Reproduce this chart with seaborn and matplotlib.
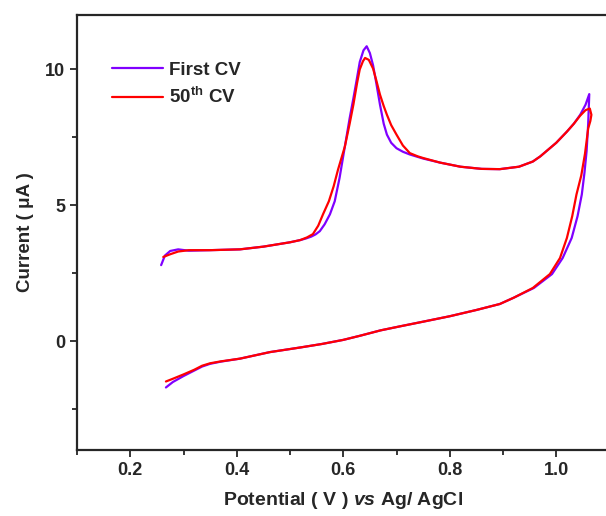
import matplotlib
matplotlib.use("Agg")
import matplotlib.pyplot as plt
import seaborn as sns
import pandas as pd
import numpy as np
from matplotlib.lines import Line2D

# ---- data (potential V, current uA) ----
first_x = [0.258, 0.265, 0.275, 0.29, 0.31, 0.35, 0.406, 0.45, 0.5, 0.519, 0.53, 0.54, 0.548, 0.556,
           0.565, 0.575, 0.584, 0.593, 0.603, 0.612, 0.619, 0.626, 0.631, 0.638, 0.644, 0.65, 0.656,
           0.662, 0.669, 0.676, 0.682, 0.69, 0.7, 0.712, 0.725, 0.75, 0.782, 0.82,
           0.86, 0.894, 0.93, 0.956, 0.97, 0.988, 1.0, 1.02, 1.033, 1.045, 1.055, 1.062,
           1.06, 1.057, 1.053, 1.048, 1.04, 1.029, 1.012, 0.992, 0.958, 0.92, 0.894, 0.85, 0.8, 0.75,
           0.707, 0.67, 0.631, 0.6, 0.56, 0.519, 0.462, 0.406, 0.37, 0.35, 0.335, 0.32, 0.3, 0.28, 0.267]
first_y = [2.8, 3.15, 3.32, 3.38, 3.33, 3.35, 3.38, 3.48, 3.64, 3.72, 3.78, 3.85, 3.93, 4.05,
           4.3, 4.67, 5.15, 6.0, 7.16, 8.2, 8.93, 9.7, 10.27, 10.7, 10.85, 10.6, 10.15,
           9.5, 8.7, 8.0, 7.6, 7.3, 7.1, 6.97, 6.87, 6.72, 6.57, 6.42,
           6.34, 6.33, 6.42, 6.61, 6.8, 7.1, 7.3, 7.71, 8.0, 8.33, 8.7, 9.09,
           8.0, 7.0, 6.2, 5.4, 4.6, 3.8, 3.06, 2.47, 1.96, 1.6, 1.37, 1.15, 0.92, 0.72,
           0.55, 0.4, 0.2, 0.05, -0.1, -0.23, -0.4, -0.64, -0.75, -0.83, -0.93, -1.08, -1.28, -1.5, -1.7]

fifty_x = [0.262, 0.275, 0.29, 0.31, 0.35, 0.406, 0.45, 0.5, 0.519, 0.532, 0.543, 0.553, 0.562,
           0.573, 0.582, 0.59, 0.603, 0.612, 0.619, 0.626, 0.631, 0.637, 0.641, 0.648, 0.656,
           0.662, 0.669, 0.676, 0.682, 0.69, 0.7, 0.712, 0.725, 0.74, 0.75, 0.782,
           0.82, 0.86, 0.894, 0.93, 0.956, 0.97, 0.988, 1.0, 1.02, 1.033, 1.045, 1.055, 1.063, 1.066,
           1.064, 1.06, 1.054, 1.047, 1.038, 1.03, 1.02, 1.007, 0.988, 0.956, 0.92, 0.894, 0.85, 0.8,
           0.75, 0.707, 0.67, 0.631, 0.6, 0.56, 0.519, 0.462, 0.406, 0.37, 0.35, 0.335, 0.32, 0.3, 0.28, 0.267]
fifty_y = [3.1, 3.2, 3.3, 3.35, 3.35, 3.38, 3.48, 3.64, 3.72, 3.82, 3.94, 4.25, 4.67,
           5.15, 5.7, 6.3, 7.16, 8.0, 8.7, 9.5, 10.0, 10.3, 10.42, 10.35, 10.03,
           9.6, 9.07, 8.65, 8.33, 7.95, 7.6, 7.2, 6.92, 6.8, 6.74, 6.57,
           6.42, 6.34, 6.33, 6.42, 6.61, 6.8, 7.1, 7.3, 7.71, 8.0, 8.3, 8.5, 8.56, 8.33,
           8.1, 7.83, 6.9, 6.1, 5.4, 4.6, 3.8, 3.06, 2.47, 1.96, 1.6, 1.37, 1.15, 0.92,
           0.72, 0.55, 0.4, 0.2, 0.05, -0.1, -0.23, -0.4, -0.64, -0.74, -0.81, -0.9, -1.05, -1.22, -1.38, -1.48]

labels = ["First CV", r"50$^{\mathbf{th}}$ CV"]
colors = ["#8000FF", "#FF0000"]
x_ticks = [0.2, 0.4, 0.6, 0.8, 1.0]
y_ticks = [0, 5, 10]

sns.set_style("ticks")
plt.rcParams["font.family"] = ["Liberation Sans", "DejaVu Sans"]
plt.rcParams["font.weight"] = "bold"
plt.rcParams["mathtext.fontset"] = "custom"
plt.rcParams["mathtext.rm"] = "Liberation Sans:bold"
plt.rcParams["mathtext.bf"] = "Liberation Sans:bold"
plt.rcParams["mathtext.it"] = "Liberation Sans:bold:italic"

df = pd.concat([
    pd.DataFrame({"x": first_x, "y": first_y, "cycle": labels[0]}),
    pd.DataFrame({"x": fifty_x, "y": fifty_y, "cycle": labels[1]}),
], ignore_index=True)

fig = plt.figure(figsize=(6.06, 5.16), dpi=100)
ax = fig.add_axes([77 / 606, 66 / 516, 532.5 / 606, 435 / 516])

sns.lineplot(data=df, x="x", y="y", hue="cycle", palette=dict(zip(labels, colors)),
             sort=False, estimator=None, units="cycle", ax=ax, linewidth=1.6, legend=False)

ax.set_xlim(0.1, 1.1)
ax.set_ylim(-4, 12)
ax.set_xticks(x_ticks)
ax.set_xticklabels([f"{v:.1f}" for v in x_ticks])
ax.set_yticks(y_ticks)
ax.set_xticks(np.arange(0.1, 1.11, 0.1), minor=True)
ax.set_yticks(np.arange(-2.5, 12, 2.5), minor=True)
ax.tick_params(axis="both", which="major", direction="out", length=5, width=1.3, labelsize=13)
ax.tick_params(axis="both", which="minor", direction="out", length=3.5, width=1.3)
for lab in ax.get_xticklabels() + ax.get_yticklabels():
    lab.set_fontweight("bold")
for s in ax.spines.values():
    s.set_linewidth(1.6)
    s.set_visible(True)

ax.set_xlabel(r"Potential ( V ) $\mathit{vs}$ Ag/ AgCl", fontsize=14, fontweight="bold", labelpad=8)
ax.set_ylabel("Current ( μA )", fontsize=13.5, fontweight="bold", labelpad=8)

handles = [Line2D([], [], color=c, lw=1.6) for c in colors]
ax.legend(handles, labels, loc="upper left", bbox_to_anchor=(0.066, 0.893), frameon=False,
          handlelength=2.7, handletextpad=0.35, labelspacing=0.45,
          borderpad=0, borderaxespad=0, prop={"weight": "bold", "size": 13.5})

fig.savefig("out.png", dpi=100)
